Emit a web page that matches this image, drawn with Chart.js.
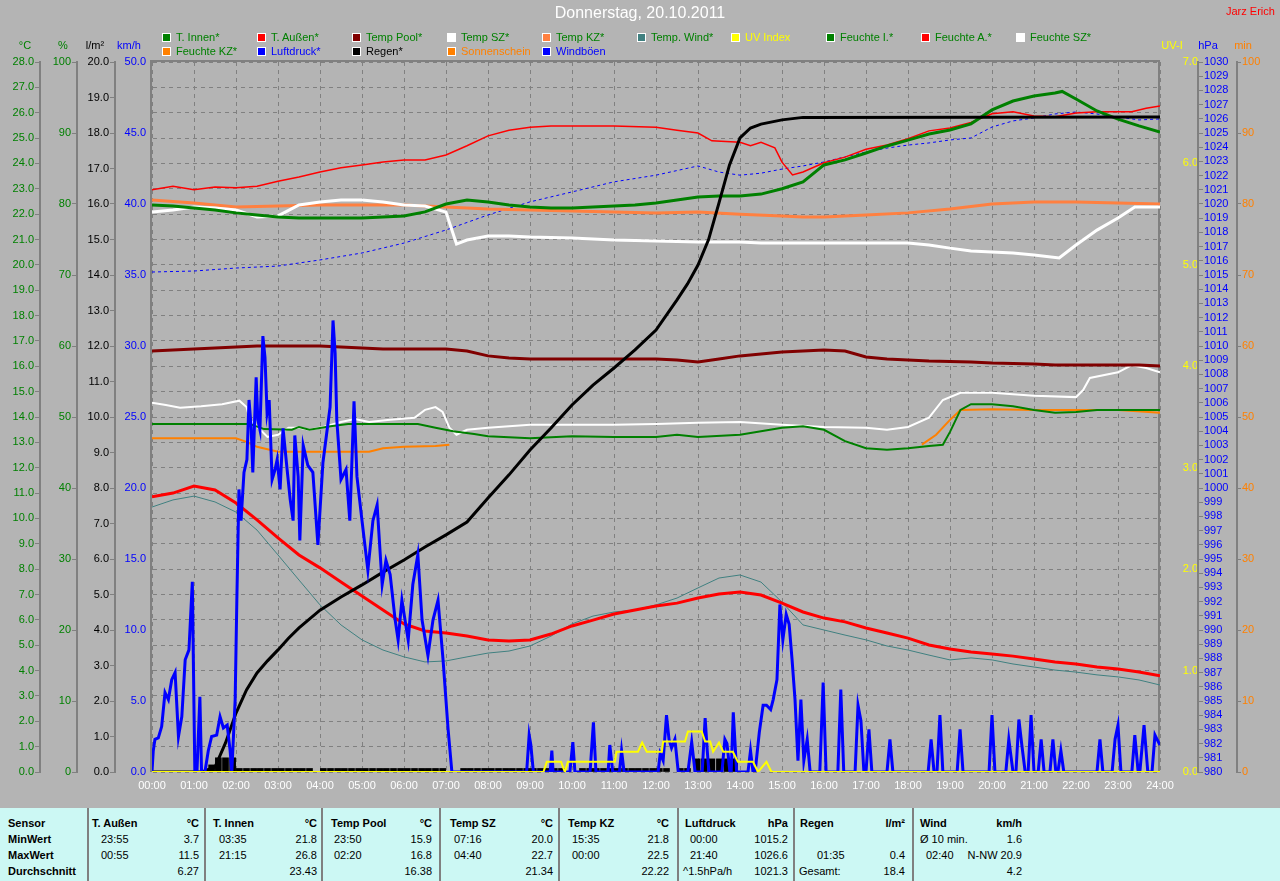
<!DOCTYPE html>
<html><head><meta charset="utf-8">
<script src="https://cdn.jsdelivr.net/npm/chart.js@4.4.0/dist/chart.umd.min.js"></script>
<style>
body{margin:0;background:#b4b4b4;width:1280px;height:881px;overflow:hidden;position:relative;font-family:"Liberation Sans",Arial,sans-serif;}
#c{position:absolute;left:0;top:0;}
.t{position:absolute;white-space:nowrap;font-size:11px;line-height:13px;}
.box{position:absolute;width:7px;height:7px;border:1px solid #fff;}
#panel{position:absolute;left:0;top:808px;width:1280px;height:73px;background:#ccf8f4;}
.vl{position:absolute;top:0;width:2px;height:73px;background:#808080;}
</style></head>
<body>
<canvas id="c" width="1280" height="808"></canvas>
<div id="ov"></div>
<div id="panel"></div>
<script>
// ---------------- DATA ----------------
const hourLabels = ['00:00','01:00','02:00','03:00','04:00','05:00','06:00','07:00','08:00','09:00','10:00','11:00','12:00','13:00','14:00','15:00','16:00','17:00','18:00','19:00','20:00','21:00','22:00','23:00','24:00'];

// [hour, °C]
const tInnen = [[0,22.36],[0.5,22.32],[1,22.24],[1.5,22.16],[2,22.05],[2.5,21.97],[3,21.89],[3.5,21.85],[4,21.85],[4.5,21.85],[5,21.85],[5.5,21.89],[6,21.93],[6.5,22.09],[7,22.4],[7.5,22.56],[8,22.48],[8.5,22.36],[9,22.28],[9.5,22.24],[10,22.24],[10.5,22.28],[11,22.32],[11.5,22.36],[12,22.44],[12.5,22.56],[13,22.68],[13.5,22.72],[14,22.72],[14.5,22.79],[15,23.0],[15.5,23.27],[16,23.94],[16.5,24.14],[17,24.41],[17.5,24.69],[18,24.92],[18.5,25.16],[19,25.32],[19.5,25.56],[20,26.11],[20.5,26.46],[21,26.66],[21.5,26.78],[21.67,26.84],[22,26.54],[22.5,26.07],[23,25.75],[23.5,25.48],[24,25.24]];
const tAussen = [[0,10.85],[0.5,11.0],[1,11.28],[1.5,11.12],[2,10.61],[2.5,9.94],[3,9.23],[3.5,8.56],[4,8.05],[4.5,7.49],[5,6.94],[5.5,6.39],[6,5.84],[6.5,5.56],[7,5.48],[7.5,5.36],[8,5.21],[8.5,5.17],[9,5.21],[9.5,5.44],[10,5.76],[10.5,5.99],[11,6.23],[11.5,6.39],[12,6.55],[12.5,6.66],[13,6.86],[13.5,7.02],[14,7.1],[14.5,6.98],[15,6.66],[15.5,6.31],[16,6.07],[16.5,5.92],[17,5.68],[17.5,5.48],[18,5.28],[18.5,5.01],[19,4.85],[19.5,4.73],[20,4.65],[20.5,4.57],[21,4.46],[21.5,4.34],[22,4.26],[22.5,4.14],[23,4.06],[23.5,3.94],[24,3.79]];
const tPool = [[0,16.6],[0.5,16.64],[1,16.68],[1.5,16.72],[2,16.76],[2.5,16.8],[4,16.8],[4.5,16.76],[5,16.72],[5.5,16.68],[7,16.68],[7.5,16.6],[8,16.41],[8.5,16.33],[9,16.29],[12,16.29],[12.5,16.25],[13,16.17],[13.5,16.29],[14,16.41],[14.5,16.48],[15,16.56],[15.5,16.6],[16,16.64],[16.5,16.6],[17,16.37],[17.5,16.29],[18,16.25],[18.5,16.21],[19.5,16.17],[20,16.13],[21,16.09],[21.5,16.05],[23.5,16.05],[24,16.01]];
const tSZ = [[0,22.08],[0.5,22.16],[1,22.28],[1.5,22.24],[2,22.16],[2.5,21.89],[3,21.93],[3.5,22.36],[4,22.48],[4.5,22.56],[5,22.56],[5.5,22.48],[6,22.36],[6.5,22.32],[7,22.08],[7.25,20.82],[7.5,20.98],[8,21.14],[8.5,21.14],[9,21.1],[10,21.06],[11,20.98],[12,20.94],[13,20.9],[14,20.9],[14.5,20.86],[18,20.86],[18.5,20.78],[19,20.66],[19.5,20.55],[20,20.51],[20.5,20.47],[21,20.39],[21.6,20.27],[22,20.78],[22.5,21.37],[23,21.85],[23.4,22.28],[24,22.28]];
const tKZ = [[0,22.56],[1,22.44],[2,22.28],[3,22.32],[4,22.36],[6,22.36],[7,22.28],[8,22.2],[9,22.16],[10,22.12],[11,22.08],[12,22.05],[13,22.08],[14,22.0],[15,21.93],[15.5,21.89],[16,21.89],[17,21.97],[18,22.05],[19,22.2],[20,22.4],[21,22.48],[22,22.48],[23,22.44],[24,22.4]];
const tWind = [[0,10.45],[0.5,10.73],[1,10.88],[1.5,10.65],[2,10.25],[2.5,9.54],[3,8.56],[3.5,7.57],[4,6.59],[4.5,5.8],[5,5.21],[5.5,4.81],[6,4.54],[6.5,4.34],[7,4.38],[7.5,4.54],[8,4.69],[8.5,4.77],[9,4.97],[9.5,5.36],[10,5.84],[10.5,6.15],[11,6.31],[11.5,6.39],[12,6.59],[12.5,6.86],[13,7.26],[13.5,7.65],[14,7.77],[14.5,7.49],[15,6.7],[15.5,5.8],[16,5.6],[16.5,5.4],[17,5.21],[17.5,4.97],[18,4.81],[18.5,4.61],[19,4.42],[19.5,4.5],[20,4.42],[20.5,4.26],[21,4.14],[21.5,4.02],[22,3.94],[22.5,3.83],[23,3.75],[23.5,3.63],[24,3.43]];
// [hour, UV index]
const uvIndex = [[0,0],[9.32,0],[9.4,0.1],[9.74,0.1],[9.83,0],[9.9,0.1],[11.02,0.1],[11.06,0.2],[11.57,0.2],[11.67,0.29],[11.78,0.2],[12.14,0.2],[12.17,0.3],[12.69,0.3],[12.76,0.4],[13.09,0.4],[13.17,0.3],[13.29,0.3],[13.36,0.2],[13.5,0.29],[13.6,0.2],[13.83,0.2],[13.95,0.1],[14.31,0.1],[14.43,0],[14.63,0.1],[14.75,0],[24,0]];
// [hour, %]
const humI = [[0,49.0],[2.33,49.0],[2.67,48.3],[3.33,48.2],[3.5,48.6],[3.75,48.2],[4.25,48.7],[4.67,49.0],[6.33,49.0],[6.75,48.5],[7.17,48.0],[7.67,47.6],[8,47.3],[9,47.0],[10,47.3],[11,47.2],[12,47.2],[12.5,47.5],[13,47.2],[14,47.5],[14.5,48.0],[15,48.5],[15.5,48.7],[16,48.2],[16.5,46.6],[17,45.6],[17.5,45.4],[18,45.6],[18.5,45.9],[18.83,46.1],[19,47.9],[19.25,51.0],[19.5,51.8],[20,51.8],[20.5,51.5],[21,51.0],[21.5,50.6],[22,50.7],[22.5,51.0],[24,51.0]];
const humA = [[0,82.0],[0.5,82.5],[1,82.0],[1.5,82.4],[2,82.3],[2.5,82.5],[3,83.2],[3.5,83.8],[4,84.5],[4.5,85.1],[5,85.5],[5.5,85.9],[6,86.2],[6.5,86.2],[7,86.9],[7.5,88.2],[8,89.6],[8.5,90.4],[9,90.8],[9.5,91.0],[11,91.0],[12,90.8],[12.5,90.4],[13,90.0],[13.33,88.9],[14,88.7],[14.25,88.2],[14.5,88.7],[14.83,87.9],[15,85.9],[15.25,84.1],[15.5,84.5],[16,85.8],[16.5,86.6],[17,87.7],[17.5,88.3],[18,89.2],[18.5,90.3],[19,90.7],[19.5,91.5],[20,92.7],[20.5,93.0],[21,92.4],[21.5,92.3],[22,92.8],[22.5,93.0],[23.33,93.0],[23.67,93.5],[24,93.8]];
const humSZ = [[0,52.0],[0.33,51.7],[0.67,51.3],[1.17,51.5],[1.67,51.8],[2.08,52.3],[2.25,51.4],[2.33,49.6],[2.58,48.2],[2.75,47.2],[3,47.5],[3.25,48.5],[3.5,48.5],[3.75,48.2],[4.08,48.6],[4.5,49.3],[4.83,49.7],[5.17,49.3],[5.67,49.6],[6.25,49.9],[6.5,51.0],[6.75,51.4],[6.92,50.7],[7.08,48.5],[7.25,47.5],[7.5,48.2],[8,48.5],[9,48.9],[11,48.9],[12,49.0],[13,49.2],[14,49.3],[15,48.9],[16,48.6],[17,48.5],[17.5,48.2],[18,48.6],[18.5,49.9],[18.83,52.4],[19.25,53.4],[20,53.4],[21,53.0],[22,52.8],[22.17,53.8],[22.33,55.5],[23,56.3],[23.33,57.3],[23.67,56.9],[24,56.3]];
const humKZ = [[0,47.0],[2,47.0],[2.25,46.5],[2.5,45.8],[3,45.1],[5.17,45.1],[5.5,45.6],[6,45.8],[6.75,45.9],[7.08,46.1],[12,null],[18.33,46.1],[18.67,47.5],[19,49.6],[19.25,51.0],[20,51.1],[21,51.0],[23,51.0],[24,50.6]];
// [hour, hPa]
const luftdruck = [[0,1015.21],[1,1015.28],[2,1015.49],[3,1015.63],[4,1016.06],[5,1016.55],[6,1017.25],[7,1018.17],[8,1019.23],[9,1020.15],[10,1020.85],[11,1021.56],[12,1022.03],[13,1022.68],[13.5,1022.25],[14,1022.03],[14.5,1022.17],[15,1022.46],[15.5,1022.68],[16,1022.96],[16.5,1023.32],[17,1023.66],[17.5,1023.94],[18,1024.15],[18.5,1024.30],[19,1024.51],[19.5,1024.65],[20,1025.42],[20.5,1025.85],[21,1026.06],[21.5,1026.34],[22,1026.48],[22.5,1026.34],[23,1026.13],[23.5,1025.92],[24,1025.99]];
// [hour, l/m²] cumulative rain
const regenSumme = [[0,0],[1.17,0],[1.25,0.03],[1.5,0.14],[1.75,0.82],[2,1.66],[2.25,2.31],[2.5,2.79],[2.75,3.13],[3,3.44],[3.25,3.77],[3.5,4.06],[4,4.56],[4.5,4.93],[5,5.27],[5.5,5.63],[6,5.97],[6.5,6.34],[7,6.68],[7.5,7.04],[8,7.72],[8.5,8.37],[9,9.07],[9.5,9.69],[10,10.34],[10.5,10.9],[11,11.38],[11.5,11.89],[12,12.45],[12.5,13.3],[12.75,13.75],[13,14.28],[13.25,14.99],[13.5,16.03],[13.75,17.1],[14,17.86],[14.25,18.14],[14.5,18.25],[15,18.37],[15.5,18.44],[24,18.45]];
// [hour, l/m²] rain per 10 min
const regen10 = [[1.25,0.04],[1.42,0.2],[1.58,0.4],[1.75,0.4],[1.92,0.4],[2.08,0.1],[2.25,0.1],[2.42,0.1],[2.58,0.1],[2.75,0.1],[2.92,0.1],[3.08,0.1],[3.25,0.1],[3.42,0.1],[3.58,0.1],[3.75,0.1],[4.08,0.1],[4.25,0.1],[4.42,0.1],[4.58,0.1],[4.75,0.1],[4.92,0.1],[5.08,0.1],[5.25,0.1],[5.42,0.1],[5.58,0.1],[5.75,0.1],[5.92,0.1],[6.08,0.1],[6.25,0.1],[6.42,0.1],[6.58,0.1],[6.75,0.1],[6.92,0.1],[7.42,0.1],[7.58,0.1],[7.75,0.1],[7.92,0.1],[8.08,0.1],[8.25,0.1],[8.42,0.1],[8.58,0.1],[8.75,0.1],[8.92,0.1],[9.08,0.1],[9.25,0.1],[9.42,0.1],[9.58,0.1],[9.75,0.1],[10.25,0.1],[10.42,0.1],[10.58,0.1],[10.75,0.1],[10.92,0.1],[11.08,0.1],[11.25,0.1],[11.42,0.1],[11.58,0.1],[11.75,0.1],[11.92,0.1],[12.08,0.1],[12.25,0.1],[12.58,0.1],[12.75,0.1],[12.98,0.37],[13.15,0.37],[13.33,0.37],[13.51,0.37],[13.69,0.37],[13.87,0.37]];
// [hour, km/h] gusts
const windboeen = [[0,0],[0.03,1.5],[0.07,2.3],[0.15,2.4],[0.23,3.2],[0.31,5.6],[0.39,5.1],[0.47,6.5],[0.55,7.0],[0.63,2.5],[0.71,3.9],[0.79,7.9],[0.88,8.6],[0.96,13.4],[1.02,0],[1.07,0],[1.14,5.3],[1.18,0],[1.26,0],[1.34,1.5],[1.42,2.5],[1.54,2.6],[1.62,3.9],[1.70,3.1],[1.79,3.3],[1.86,1.5],[1.90,0],[1.98,5.1],[2.02,12.1],[2.07,19.9],[2.12,17.7],[2.19,21.1],[2.26,22.0],[2.31,26.2],[2.36,24.3],[2.40,21.1],[2.48,27.8],[2.52,24.8],[2.57,24.1],[2.64,30.7],[2.69,29.2],[2.74,25.3],[2.79,26.2],[2.86,20.6],[2.93,21.3],[2.98,22.0],[3.05,19.9],[3.12,24.2],[3.21,21.5],[3.29,19.2],[3.36,17.7],[3.40,23.7],[3.48,20.8],[3.52,16.3],[3.60,23.0],[3.71,21.6],[3.83,21.1],[3.95,16.0],[4.07,21.8],[4.24,25.7],[4.31,31.8],[4.36,29.5],[4.40,24.8],[4.50,20.6],[4.62,21.3],[4.71,17.7],[4.81,26.1],[4.88,20.8],[5.00,17.7],[5.14,14.2],[5.26,17.7],[5.36,18.8],[5.48,13.2],[5.57,14.9],[5.67,13.9],[5.79,10.7],[5.86,9.3],[5.95,12.1],[6.10,9.3],[6.21,13.2],[6.33,15.3],[6.43,10.7],[6.57,8.2],[6.69,10.7],[6.81,12.1],[6.93,7.9],[7.05,3.0],[7.14,0],
[8.92,0],[8.98,2.6],[9.02,1.9],[9.08,0],[9.48,0],[9.52,1.5],[9.55,0],[9.95,0],[10.02,2.1],[10.07,0],[10.43,0],[10.51,3.5],[10.57,0],[10.86,0],[10.90,1.9],[10.97,0],[11.13,0],[11.18,1.5],[11.24,0],[12.05,0],[12.10,1.3],[12.17,0.8],[12.25,4.0],[12.31,2.3],[12.37,1.7],[12.45,2.3],[12.53,0],[12.76,0],[12.85,2.1],[12.93,0],[13.10,0],[13.17,3.8],[13.22,1.5],[13.26,0],[13.57,0],[13.64,2.3],[13.69,2.0],[13.76,0],[13.79,0],[13.84,4.2],[13.92,0],[14.19,0],[14.25,1.5],[14.31,0],[14.36,0],[14.46,2.8],[14.55,4.7],[14.63,4.7],[14.73,4.4],[14.79,5.1],[14.88,6.5],[14.95,11.8],[15.02,9.3],[15.10,11.1],[15.17,10.4],[15.24,7.9],[15.31,5.1],[15.38,0.8],[15.45,5.1],[15.52,0.8],[15.60,2.3],[15.67,0],
[15.9,0],[15.98,6.3],[16.05,0],[16.33,0],[16.4,5.8],[16.47,0],[16.74,0],[16.81,4.7],[16.88,3.6],[16.95,0],[17.0,0],[17.07,3.0],[17.14,0],[17.5,0],[17.57,2.3],[17.64,0],[18.48,0],[18.55,2.3],[18.62,0],[18.69,0],[18.76,4.0],[18.83,0],[19.17,0],[19.24,3.0],[19.31,0],[19.93,0],[20.0,4.0],[20.07,0],[20.33,0],[20.4,2.3],[20.5,0],[20.57,0],[20.64,3.7],[20.71,1.9],[20.79,0],[20.86,0],[20.93,4.0],[21.0,0],[21.1,0],[21.17,2.3],[21.24,0],[21.38,0],[21.45,2.3],[21.52,0],[21.57,0],[21.64,1.5],[21.71,0],[22.5,0],[22.57,2.3],[22.64,0],[22.86,0],[22.93,2.3],[23.0,3.3],[23.07,0],[23.33,0],[23.4,2.6],[23.48,0],[23.52,0],[23.62,3.3],[23.71,0],[23.81,0],[23.88,2.6],[23.93,2.3],[24,1.9]];

// legend
const legendRow1 = ['T. Innen*','T. Außen*','Temp Pool*','Temp SZ*','Temp KZ*','Temp. Wind*','UV Index','Feuchte I.*','Feuchte A.*','Feuchte SZ*'];
const legendRow2 = ['Feuchte KZ*','Luftdruck*','Regen*','Sonnenschein','Windböen'];

// stats table
const tableHeads = ['T. Außen','T. Innen','Temp Pool','Temp SZ','Temp KZ','Luftdruck','Regen','Wind'];
const tableUnits = ['°C','°C','°C','°C','°C','hPa','l/m²','km/h'];
const rowLabels = ['Sensor','MinWert','MaxWert','Durchschnitt'];
const minTimes = ['23:55','03:35','23:50','07:16','15:35','00:00','','Ø 10 min.'];
const minVals  = ['3.7','21.8','15.9','20.0','21.8','1015.2','','1.6'];
const maxTimes = ['00:55','21:15','02:20','04:40','00:00','21:40','01:35','02:40'];
const maxVals  = ['11.5','26.8','16.8','22.7','22.5','1026.6','0.4','N-NW 20.9'];
const avgTimes = ['','','','','','^1.5hPa/h','Gesamt:',''];
const avgVals  = ['6.27','23.43','16.38','21.34','22.22','1021.3','18.4','4.2'];

// ---------------- STYLES / LAYOUT ----------------
const legendBoxColors1 = ['#008000','#ff0000','#800000','#ffffff','#ff8040','#408080','#ffff00','#008000','#ff0000','#ffffff'];
const legendTextColors1 = ['#008000','#008000','#008000','#008000','#008000','#008000','#ffff00','#008000','#008000','#008000'];
const legendBoxColors2 = ['#ff8000','#0000ff','#000000','#ff8000','#0000ff'];
const legendTextColors2 = ['#008000','#0000ff','#000000','#ff8000','#0000ff'];

const ov = document.getElementById('ov');
function addText(txt, x, y, color, size, extra) {
  const d = document.createElement('div');
  d.className = 't';
  d.textContent = txt;
  d.style.left = x + 'px'; d.style.top = y + 'px'; d.style.color = color;
  if (size) { d.style.fontSize = size + 'px'; d.style.lineHeight = (size + 2) + 'px'; }
  if (extra) Object.assign(d.style, extra);
  return d;
}
ov.appendChild(addText('Donnerstag, 20.10.2011', 440, 4, '#ffffff', 16, {width:'400px', textAlign:'center'}));
ov.appendChild(addText('Jarz Erich', 1226, 5, '#ff0000', 11));
function legendRow(labels, boxC, textC, top) {
  labels.forEach((l, i) => {
    const x = Math.round(162 + i * 94.9);
    const b = document.createElement('div');
    b.className = 'box'; b.style.left = x + 'px'; b.style.top = top + 'px'; b.style.background = boxC[i];
    ov.appendChild(b);
    ov.appendChild(addText(l, x + 14, top - 2, textC[i]));
  });
}
legendRow(legendRow1, legendBoxColors1, legendTextColors1, 33);
legendRow(legendRow2, legendBoxColors2, legendTextColors2, 47);
// axis titles
[['°C',25,'#008000'],['%',63,'#008000'],['l/m²',95,'#000000'],['km/h',129,'#0000ff'],['UV-I',1172,'#ffff00'],['hPa',1208,'#0000ff'],['min',1243,'#ff8000']].forEach(([t,cx,c]) => {
  ov.appendChild(addText(t, cx - 20, 39, c, 11, {width:'40px', textAlign:'center'}));
});

// table
const panel = document.getElementById('panel');
const borders = [88,205,322,440,559,678,794,913];
const headX = [92,213,331,450,568,685,800,920];
const unitRight = [199,317,432,553,669,788,905,1022];
const timeX = [[101,219,334,454,572,690,817,920],[101,219,334,454,572,690,817,926],[101,219,334,454,572,683,799,926]];
const rowTop = [9,25,41,57];
function ptext(txt, x, top, bold, right) {
  const d = document.createElement('div');
  d.className = 't'; d.textContent = txt; d.style.color = '#000';
  d.style.top = top + 'px';
  if (bold) d.style.fontWeight = 'bold';
  if (right) { d.style.left = (x - 200) + 'px'; d.style.width = '200px'; d.style.textAlign = 'right'; }
  else d.style.left = x + 'px';
  panel.appendChild(d);
}
rowLabels.forEach((r, i) => ptext(r, 8, rowTop[i], true));
borders.forEach(b => { const v = document.createElement('div'); v.className = 'vl'; v.style.left = (b - 1) + 'px'; panel.appendChild(v); });
const rowsT = [minTimes, maxTimes, avgTimes], rowsV = [minVals, maxVals, avgVals];
tableHeads.forEach((h, c) => {
  ptext(h, headX[c], rowTop[0], true);
  ptext(tableUnits[c], unitRight[c], rowTop[0], true, true);
  for (let r = 0; r < 3; r++) {
    if (rowsT[r][c]) ptext(rowsT[r][c], timeX[r][c], rowTop[r + 1], false);
    if (rowsV[r][c]) ptext(rowsV[r][c], unitRight[c], rowTop[r + 1], false, true);
  }
});

// ---------------- CHART ----------------
Chart.defaults.font.family = '"Liberation Sans", Arial, sans-serif';
Chart.defaults.font.size = 11;
const P = arr => arr.map(([x, y]) => ({x, y}));
function ds(label, data, axis, color, width, extra) {
  return Object.assign({type:'line', label, data:P(data), yAxisID:axis, borderColor:color, backgroundColor:color,
    borderWidth:width, pointRadius:0, fill:false, tension:0, borderJoinStyle:'miter'}, extra || {});
}
const datasets = [
  ds('UV Index', uvIndex, 'uv', '#ffff00', 2),
  ds('Windböen', windboeen, 'kmh', '#0000ff', 3),
  ds('Regen*', regenSumme, 'rain', '#000000', 3),
  {type:'bar', label:'Regen 10min', data:P(regen10), yAxisID:'rain', backgroundColor:'#000000', barThickness:6, borderWidth:0},
  ds('T. Außen*', tAussen, 'tC', '#ff0000', 3),
  ds('T. Innen*', tInnen, 'tC', '#008000', 3),
  ds('Temp. Wind*', tWind, 'tC', '#408080', 1),
  ds('Temp Pool*', tPool, 'tC', '#800000', 3),
  ds('Temp SZ*', tSZ, 'tC', '#ffffff', 3),
  ds('Temp KZ*', tKZ, 'tC', '#ff8040', 3),
  ds('Feuchte I.*', humI, 'pct', '#008000', 2),
  ds('Feuchte A.*', humA, 'pct', '#ff0000', 1.5),
  ds('Feuchte SZ*', humSZ, 'pct', '#ffffff', 2),
  ds('Feuchte KZ*', humKZ, 'pct', '#ff8000', 2),
  ds('Luftdruck*', luftdruck, 'hpa', '#0000ff', 1, {borderDash:[3,3]})
];
const GRAY = '#808080';
function yAxis(pos, weight, min, max, step, color, width, fmt, extra) {
  const base = {
    type:'linear', position:pos, weight, min, max,
    ticks:{stepSize:step, color, autoSkip:false, padding:1, callback:fmt, font:{size:11}},
    grid:{drawOnChartArea:false, color:GRAY, tickColor:GRAY, tickLength:5, lineWidth:1, tickWidth:1},
    border:{display:true, color:GRAY, width:2},
    afterFit: s => { s.width = width; }
  };
  if (extra) {
    for (const k in extra) base[k] = Object.assign({}, base[k], extra[k]);
  }
  return base;
}
const f1 = v => Number(v).toFixed(1);
const f0 = v => String(v);
const framePlugin = {
  id:'frame',
  beforeDatasetsDraw(chart) {
    const {ctx, chartArea:a} = chart;
    ctx.save();
    ctx.strokeStyle = GRAY; ctx.lineWidth = 2;
    ctx.beginPath();
    ctx.moveTo(a.left - 1, a.bottom); ctx.lineTo(a.left - 1, a.top - 1);
    ctx.lineTo(a.right - 1, a.top - 1); ctx.lineTo(a.right - 1, a.bottom);
    ctx.stroke();
    ctx.restore();
  }
};
new Chart(document.getElementById('c'), {
  type:'line',
  data:{datasets},
  options:{
    responsive:false, animation:false, devicePixelRatio:1,
    layout:{padding:{top:62, left:0, right:0, bottom:0}},
    plugins:{legend:{display:false}, tooltip:{enabled:false}, title:{display:false}},
    scales:{
      x:{type:'linear', position:'bottom', min:0, max:24, offset:false,
        ticks:{stepSize:1, autoSkip:false, maxRotation:0, color:'#ffffff', padding:7, callback:v => hourLabels[v] || ''},
        grid:{color:GRAY, lineWidth:1, drawTicks:false, offset:false},
        border:{display:false, dash:[4,4]},
        afterFit: s => { s.height = 36; }
      },
      tC: yAxis('left', 3, 0, 28, 1, '#008000', 40, f1, {grid:{drawOnChartArea:true}, border:{dash:[4,4]}}),
      pct: yAxis('left', 2, 0, 100, 10, '#008000', 37, f0),
      rain: yAxis('left', 1, 0, 20, 1, '#000000', 38, f1),
      kmh: yAxis('left', 0, 0, 50, 5, '#0000ff', 37, f1, {grid:{tickColor:'rgba(0,0,0,0)'}, border:{display:false}}),
      uv: yAxis('right', 0, 0, 7, 1, '#ffff00', 38, f1, {grid:{drawTicks:false}, border:{display:false}, ticks:{crossAlign:'far', padding:7}}),
      hpa: yAxis('right', 1, 980, 1030, 1, '#0000ff', 39, f0),
      min: yAxis('right', 2, 0, 100, 10, '#ff8000', 43, f0, {grid:{tickLength:4}})
    }
  },
  plugins:[framePlugin]
});
</script>
</body></html>
